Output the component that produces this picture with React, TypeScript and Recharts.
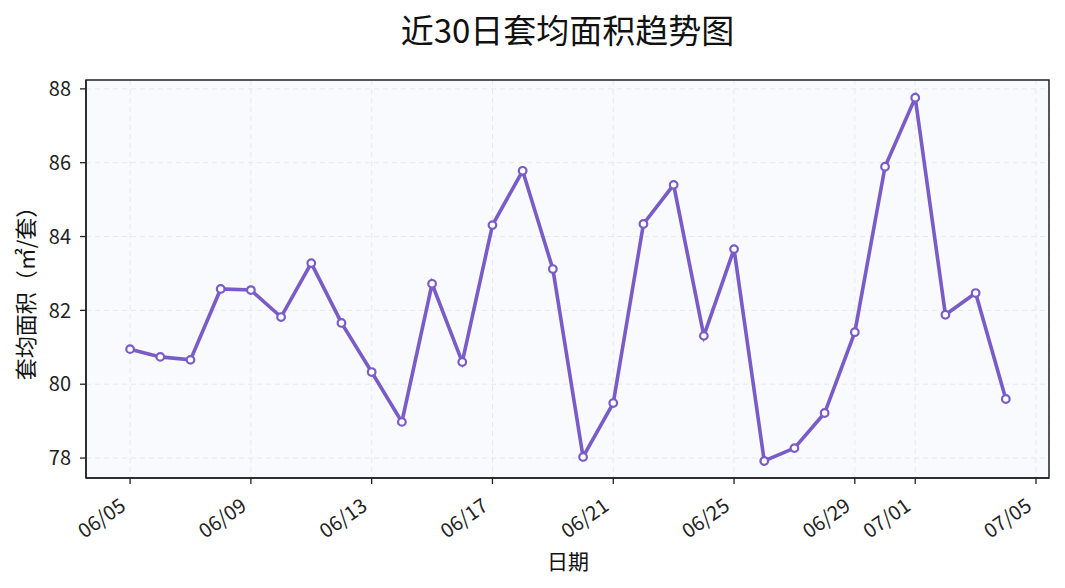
import React from 'react';
import { LineChart, Line, XAxis, YAxis, CartesianGrid, ReferenceArea } from 'recharts';

const dates = [
  '06/05','06/06','06/07','06/08','06/09','06/10','06/11','06/12','06/13','06/14',
  '06/15','06/16','06/17','06/18','06/19','06/20','06/21','06/22','06/23','06/24',
  '06/25','06/26','06/27','06/28','06/29','06/30','07/01','07/02','07/03','07/04',
];
const avgArea = [
  80.95, 80.74, 80.66, 82.58, 82.55, 81.82, 83.28, 81.66, 80.33, 78.98,
  82.72, 80.60, 84.31, 85.78, 83.12, 78.03, 79.49, 84.34, 85.40, 81.31,
  83.66, 77.92, 78.27, 79.22, 81.41, 85.89, 87.76, 81.88, 82.47, 79.60,
];
const xTickIndex = [0, 4, 8, 12, 16, 20, 24, 26, 30];
const xTickLabels = ['06/05','06/09','06/13','06/17','06/21','06/25','06/29','07/01','07/05'];
const yTicks = [78, 80, 82, 84, 86, 88];

const data = dates.map((d, i) => ({ idx: i, date: d, value: avgArea[i] }));

const X_MIN = -1.46;
const X_MAX = 30.43;
const Y_MIN = 77.46;
const Y_MAX = 88.24;

const FONT = '"Noto Sans CJK SC", "Noto Sans", sans-serif';
const LINE_COLOR = '#7A5CC8';

const XTick = (props: any) => {
  const { x, y, payload } = props;
  const k = xTickIndex.indexOf(payload.value);
  const label = k >= 0 ? xTickLabels[k] : '';
  return (
    <g transform={`translate(${x - 3},${y + 23})`}>
      <text
        x={0}
        y={0}
        textAnchor="end"
        transform="rotate(-35)"
        fontSize={20}
        fill="#222"
        fontFamily={FONT}
      >
        {label}
      </text>
    </g>
  );
};

const YTick = (props: any) => {
  const { x, y, payload } = props;
  return (
    <text x={x} y={y} dy="0.36em" textAnchor="end" fontSize={20} fill="#222" fontFamily={FONT}>
      {payload.value}
    </text>
  );
};

export default function App() {
  return (
    <div style={{ position: 'relative', width: 1065, height: 588, background: '#fff' }}>
      <style>{`body{margin:0;}`}</style>
      <div
        style={{
          position: 'absolute', left: 86, width: 963, top: 8, textAlign: 'center',
          fontFamily: FONT, fontSize: 33, color: '#111', lineHeight: '42px',
        }}
      >
        近30日套均面积趋势图
      </div>
      <div
        style={{
          position: 'absolute', left: 568 - 100, width: 200, top: 545, textAlign: 'center',
          fontFamily: FONT, fontSize: 21, color: '#111', lineHeight: '30px',
        }}
      >
        日期
      </div>
      <div
        style={{
          position: 'absolute', left: 24 - 120, top: 288 - 15, width: 240, height: 30,
          textAlign: 'center', fontFamily: FONT, fontSize: 22, color: '#111', lineHeight: '30px',
          transform: 'rotate(-90deg)', whiteSpace: 'nowrap',
        }}
      >
        套均面积（㎡/套）
      </div>
      <LineChart
        width={1065}
        height={588}
        data={data}
        margin={{ top: 80, right: 16, left: 0, bottom: 0 }}
      >
        <CartesianGrid
          stroke="#e6e9f1"
          strokeDasharray="5 4"
          fill="#f8fafd"
          fillOpacity={1}
        />
        <XAxis
          dataKey="idx"
          type="number"
          domain={[X_MIN, X_MAX]}
          ticks={xTickIndex}
          allowDataOverflow
          height={110}
          tick={<XTick />}
          tickSize={6}
          tickLine={{ stroke: '#222', strokeWidth: 1.3 }}
          axisLine={{ stroke: '#222', strokeWidth: 1.5 }}
          interval={0}
        />
        <YAxis
          type="number"
          domain={[Y_MIN, Y_MAX]}
          ticks={yTicks}
          allowDataOverflow
          width={86}
          tick={<YTick />}
          tickSize={6}
          tickMargin={9}
          tickLine={{ stroke: '#222', strokeWidth: 1.3 }}
          axisLine={{ stroke: '#222', strokeWidth: 1.5 }}
          interval={0}
        />
        <ReferenceArea
          x1={X_MIN}
          x2={X_MAX}
          y1={Y_MIN}
          y2={Y_MAX}
          fill="none"
          stroke="#222"
          strokeWidth={1.5}
          ifOverflow="visible"
        />
        <Line
          type="linear"
          dataKey="value"
          stroke={LINE_COLOR}
          strokeWidth={3.6}
          dot={{ r: 3.8, fill: '#fff', stroke: LINE_COLOR, strokeWidth: 2.2 }}
          activeDot={false}
          isAnimationActive={false}
        />
      </LineChart>
    </div>
  );
}
